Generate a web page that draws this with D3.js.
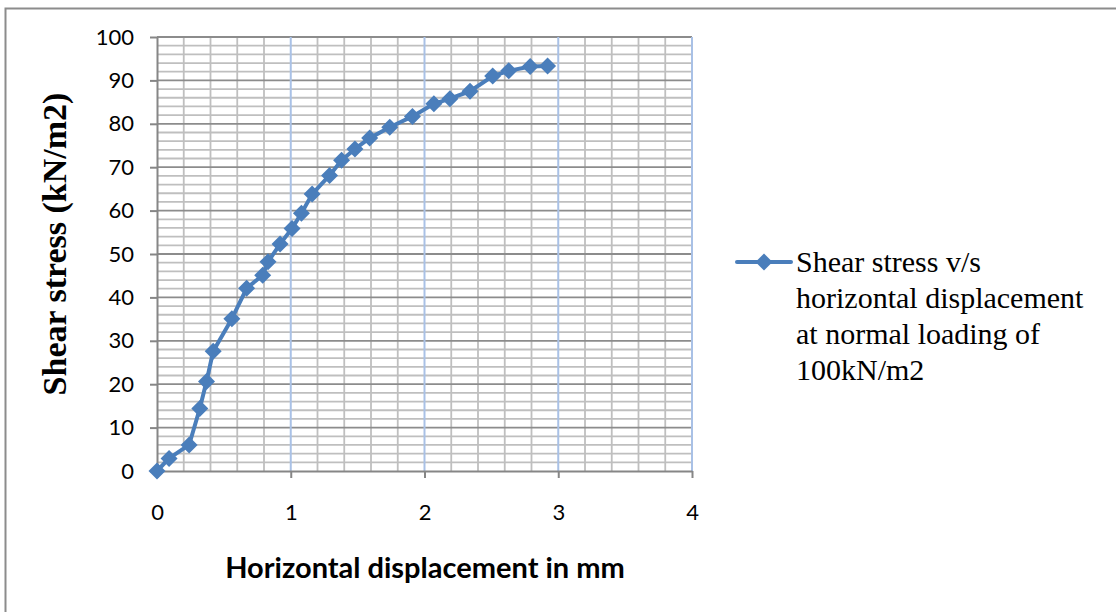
<!DOCTYPE html>
<html><head><meta charset="utf-8">
<script src="https://cdn.jsdelivr.net/npm/d3@7"></script>
<style>body{margin:0;background:#fff}svg{display:block}</style>
</head><body>
<svg id="c" width="1116" height="612"></svg>
<script>
// ---- data ----
const xDisp   = [0, 0.09, 0.24, 0.32, 0.37, 0.42, 0.56, 0.67, 0.79, 0.83, 0.92, 1.01, 1.08, 1.16, 1.29, 1.38, 1.48, 1.59, 1.74, 1.91, 2.07, 2.19, 2.34, 2.51, 2.63, 2.79, 2.92];
const yStress = [0, 2.9, 6.0, 14.4, 20.6, 27.6, 35.1, 42.1, 45.1, 48.2, 52.3, 55.9, 59.4, 63.8, 68.1, 71.6, 74.2, 76.7, 79.2, 81.7, 84.6, 85.8, 87.5, 91.0, 92.2, 93.2, 93.3];
const xTicks = [0, 1, 2, 3, 4];
const yTicks = [0, 10, 20, 30, 40, 50, 60, 70, 80, 90, 100];
const legendLines = ["Shear stress v/s", "horizontal displacement", "at normal loading of", "100kN/m2"];
const xTitle = "Horizontal displacement in mm";
const yTitle = "Shear stress (kN/m2)";

// ---- layout ----
const svg = d3.select("#c");
const x = d3.scaleLinear().domain([0, 4]).range([157, 692]);
const y = d3.scaleLinear().domain([0, 100]).range([471, 37]);
const blue = "#4A7EBB";

svg.append("rect").attr("x", 5.5).attr("y", 8.5).attr("width", 1200).attr("height", 700)
  .attr("fill", "#fff").attr("stroke", "#8c8c8c").attr("stroke-width", 2);

const grid = svg.append("g");
const xMinor = d3.range(0, 4.0001, 0.2).filter(v => Math.abs(v - Math.round(v)) > 1e-6);
grid.selectAll(".vm").data(xMinor).join("line")
  .attr("x1", d => x(d)).attr("x2", d => x(d)).attr("y1", y(0)).attr("y2", y(100))
  .attr("stroke", "#bfbfbf").attr("stroke-width", 1.8);
const yMinor = d3.range(2, 100, 2).filter(v => v % 10 !== 0);
grid.selectAll(".hm").data(yMinor).join("line")
  .attr("x1", x(0)).attr("x2", x(4)).attr("y1", d => y(d)).attr("y2", d => y(d))
  .attr("stroke", "#bfbfbf").attr("stroke-width", 1.8);
grid.selectAll(".hM").data(yTicks.filter(v => v > 0)).join("line")
  .attr("x1", x(0)).attr("x2", x(4)).attr("y1", d => y(d)).attr("y2", d => y(d))
  .attr("stroke", "#8c8c8c").attr("stroke-width", 1.8);
grid.selectAll(".vM").data(xTicks.filter(v => v > 0)).join("line")
  .attr("x1", d => x(d)).attr("x2", d => x(d)).attr("y1", y(0)).attr("y2", y(100))
  .attr("stroke", "#a9c1e6").attr("stroke-width", 2);

// axes
const yAxis = svg.append("g").attr("transform", `translate(${x(0)},0)`)
  .call(d3.axisLeft(y).tickValues(yTicks).tickFormat(d3.format("d")).tickSize(7).tickSizeOuter(0).tickPadding(16));
const xAxis = svg.append("g").attr("transform", `translate(0,${y(0)})`)
  .call(d3.axisBottom(x).tickValues(xTicks).tickFormat(d3.format("d")).tickSize(7).tickSizeOuter(0).tickPadding(26));
[yAxis, xAxis].forEach(g => {
  g.select(".domain").attr("stroke", "#868686").attr("stroke-width", 2);
  g.selectAll(".tick line").attr("stroke", "#868686").attr("stroke-width", 2);
  g.selectAll("text").attr("font-family", "Lato, 'Open Sans', sans-serif")
    .attr("font-size", 22).attr("fill", "#000");
});

// series
const pts = xDisp.map((d, i) => [d, yStress[i]]);
svg.append("path").datum(pts)
  .attr("fill", "none").attr("stroke", blue).attr("stroke-width", 4).attr("stroke-linejoin", "round")
  .attr("d", d3.line().x(d => x(d[0])).y(d => y(d[1])));
const h = 8.5;
const diamond = `M0,${-h}L${h},0L0,${h}L${-h},0Z`;
svg.selectAll(".mk").data(pts).join("path")
  .attr("transform", d => `translate(${x(d[0])},${y(d[1])})`)
  .attr("d", diamond).attr("fill", blue);

// titles
svg.append("text").attr("x", 425).attr("y", 578).attr("text-anchor", "middle")
  .attr("font-family", "Lato, 'Open Sans', sans-serif").attr("font-weight", "bold")
  .attr("font-size", 29).text(xTitle);
svg.append("text").attr("transform", "translate(66,244) rotate(-90)").attr("text-anchor", "middle")
  .attr("font-family", "'Liberation Serif', 'Times New Roman', serif").attr("font-weight", "bold")
  .attr("font-size", 34).text(yTitle);

// legend
const lg = svg.append("g");
lg.append("line").attr("x1", 737).attr("x2", 791).attr("y1", 262).attr("y2", 262)
  .attr("stroke", blue).attr("stroke-width", 4).attr("stroke-linecap", "round");
lg.append("path").attr("transform", "translate(764,262)").attr("d", diamond).attr("fill", blue);
lg.selectAll("text").data(legendLines).join("text")
  .attr("x", 796).attr("y", (d, i) => 272 + i * 36)
  .attr("font-family", "'Liberation Serif', 'Times New Roman', serif")
  .attr("font-size", 30).attr("fill", "#000").text(d => d);
</script>
</body></html>
